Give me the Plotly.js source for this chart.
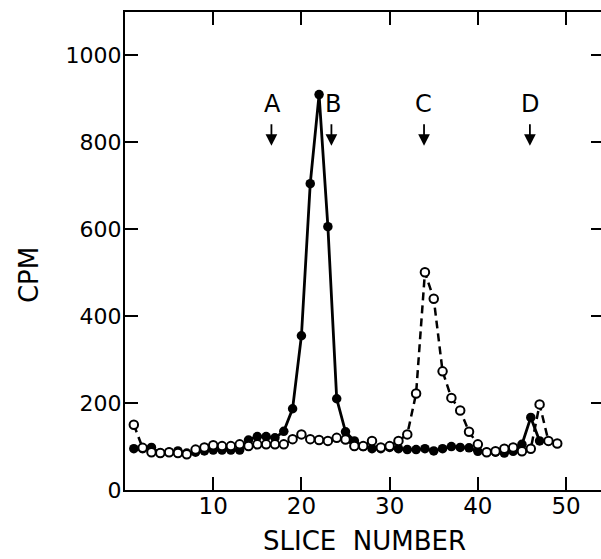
<!DOCTYPE html>
<html>
<head>
<meta charset="utf-8">
<script src="https://cdn.plot.ly/plotly-3.0.1.min.js"></script>
<style>
html,body{margin:0;padding:0;overflow:hidden;background:#fff;}
#chart{width:604px;height:559px;}
</style>
</head>
<body>
<div id="chart"></div>
<script>
// Slice numbers
var sliceFilled = [1,2,3,4,5,6,7,8,9,10,11,12,13,14,15,16,17,18,19,20,21,22,23,24,25,26,27,28,29,30,31,32,33,34,35,36,37,38,39,40,41,42,43,44,45,46,47];
var cpmFilled = [95,95,98,85,87,90,85,87,90,92,92,92,92,115,123,123,120,135,187,355,705,910,606,210,134,113,100,95,95,98,95,93,93,95,90,95,100,98,97,89,87,87,85,89,105,167,113];

var sliceOpen = [1,2,3,4,5,6,7,8,9,10,11,12,13,14,15,16,17,18,19,20,21,22,23,24,25,26,27,28,29,30,31,32,33,34,35,36,37,38,39,40,41,42,43,44,45,46,47,48,49];
var cpmOpen = [150,97,87,85,87,85,82,93,98,103,101,101,105,101,105,105,105,105,117,128,117,115,113,120,116,101,101,113,98,101,113,128,222,501,440,273,212,183,134,105,87,89,95,98,89,95,197,113,107];

var markerLabels = ["A","B","C","D"];
var markerSlices = [16.7,23.6,33.8,45.9];
var arrowSlices = [16.6,23.4,33.9,45.9];

var xTickVals = [10,20,30,40,50];
var xTickText = ["10","20","30","40","50"];
var yTickVals = [0,200,400,600,800,1000];
var yTickText = ["0","200","400","600","800","1000"];

var traces = [
  {
    x: sliceFilled, y: cpmFilled, type: "scatter", mode: "lines+markers",
    line: {color: "#000", width: 2.8},
    marker: {symbol: "circle", size: 9.5, color: "#000"},
    showlegend: false
  },
  {
    x: sliceOpen, y: cpmOpen, type: "scatter", mode: "lines+markers",
    line: {color: "#000", width: 2.5, dash: "8px,5px"},
    marker: {symbol: "circle", size: 8.5, color: "#fff", line: {color: "#000", width: 2}},
    showlegend: false
  }
];

var annotations = [];
for (var i = 0; i < markerLabels.length; i++) {
  annotations.push({
    x: markerSlices[i], y: 888, xref: "x", yref: "y",
    text: markerLabels[i], showarrow: false,
    font: {family: "DejaVu Sans", size: 24, color: "#000"}
  });
  annotations.push({
    x: arrowSlices[i], y: 792, xref: "x", yref: "y",
    ax: arrowSlices[i], ay: 845, axref: "x", ayref: "y",
    text: "", showarrow: true, arrowhead: 2, arrowsize: 1.3, arrowwidth: 1.8, arrowcolor: "#000"
  });
}
annotations.push({
  xref: "paper", yref: "paper", x: -0.2, y: 0.45,
  text: "CPM", textangle: -90, showarrow: false,
  xanchor: "center", yanchor: "middle",
  font: {family: "DejaVu Sans", size: 26, color: "#000"}
});

var layout = {
  width: 604, height: 559,
  margin: {l: 125, r: 0, t: 12, b: 69},
  paper_bgcolor: "#fff", plot_bgcolor: "#fff",
  font: {family: "DejaVu Sans", color: "#000"},
  xaxis: {
    range: [0, 54.3], showgrid: false, zeroline: false,
    showline: true, linecolor: "#000", linewidth: 2, mirror: "ticks",
    ticks: "inside", ticklen: 13, tickwidth: 2, tickcolor: "#000",
    tickvals: xTickVals, ticktext: xTickText,
    ticklabelstandoff: -6,
    tickfont: {family: "DejaVu Sans", size: 23, color: "#000"},
    title: {text: "SLICE\u00a0\u00a0NUMBER", font: {family: "DejaVu Sans", size: 26, color: "#000"}, standoff: 14}
  },
  yaxis: {
    range: [0, 1100], showgrid: false, zeroline: false,
    showline: true, linecolor: "#000", linewidth: 2, mirror: "ticks",
    ticks: "inside", ticklen: 13, tickwidth: 2, tickcolor: "#000",
    tickvals: yTickVals, ticktext: yTickText,
    ticklabelstandoff: -3,
    tickfont: {family: "DejaVu Sans", size: 22, color: "#000"}
  },
  annotations: annotations
};

Plotly.newPlot("chart", traces, layout, {displayModeBar: false, staticPlot: true});
</script>
</body>
</html>
